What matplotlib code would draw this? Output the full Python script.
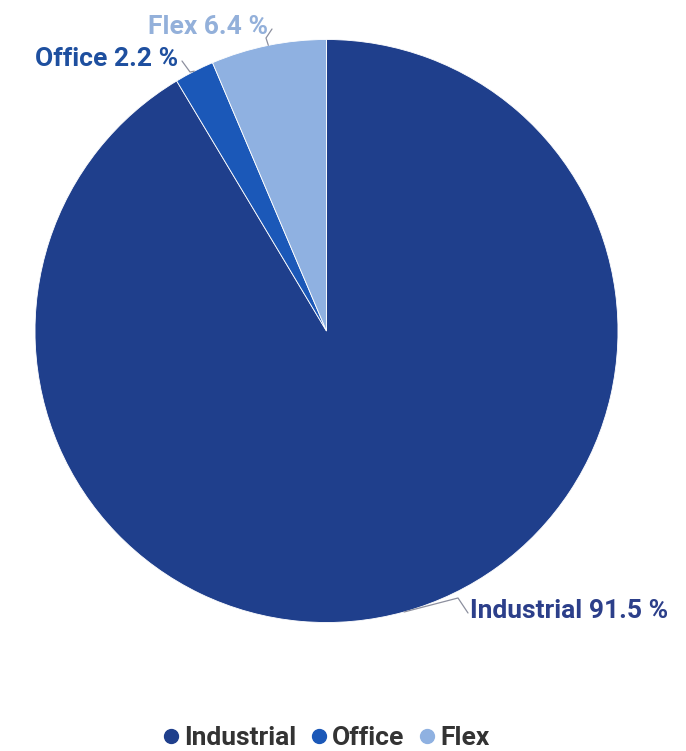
import matplotlib
matplotlib.use("Agg")
import matplotlib.pyplot as plt
from matplotlib.lines import Line2D
import numpy as np

# Share of portfolio by property type
categories = ["Industrial", "Office", "Flex"]
shares = [91.5, 2.2, 6.4]
colors = ["#1f3f8c", "#1b58b8", "#8fb1e1"]
label_colors = ["#2c3f8a", "#1e4f9f", "#93b0da"]

plt.rcParams["font.family"] = ["Roboto", "DejaVu Sans"]

W, H = 686, 751
fig = plt.figure(figsize=(W / 100, H / 100), dpi=100)
ax = fig.add_axes([0, 0, 1, 1])

cx, cy, r = 326.5, H - 331, 291.5
wedges, _ = ax.pie(shares, colors=colors, startangle=90, counterclock=False,
                   center=(cx, cy), radius=r,
                   wedgeprops=dict(edgecolor="white", linewidth=0.6))
ax.set_xlim(0, W)
ax.set_ylim(0, H)
ax.set_aspect("equal")
ax.axis("off")

# label text anchors (pixel positions, y measured from top) and leader elbows
text_pos = {
    "Industrial": ((470, 611), "left", (458, 598)),
    "Office": ((178, 59), "right", (190, 72)),
    "Flex": ((268, 27), "right", (266, 38)),
}

for w, cat, val, lc in zip(wedges, categories, shares, label_colors):
    theta = np.deg2rad((w.theta1 + w.theta2) / 2)
    ex, ey = cx + r * np.cos(theta), cy + r * np.sin(theta)
    (tx, ty), ha, (bx, by) = text_pos[cat]
    ty_d, by_d = H - ty, H - by
    end_x = tx - 2 if ha == "left" else tx + 4
    ax.plot([ex, bx, end_x], [ey, by_d, ty_d - 2], color="#8c8f9e",
            linewidth=0.9, solid_capstyle="round")
    ax.text(tx, ty_d, f"{cat} {val} %", ha=ha, va="center", color=lc,
            fontsize=19, fontweight="bold")

handles = [Line2D([], [], marker="o", linestyle="none", markersize=10,
                  markerfacecolor=c, markeredgecolor=c) for c in colors]
leg = fig.legend(handles, categories, loc="center", ncol=3,
                 bbox_to_anchor=(325 / W, 1 - 738 / H), frameon=False,
                 handletextpad=0.1, columnspacing=0.45, handlelength=0.8,
                 prop=dict(family=["Roboto", "DejaVu Sans"], size=19,
                           weight="bold"))
for t in leg.get_texts():
    t.set_color("#333333")

fig.savefig("out.png", dpi=100, facecolor="white")
